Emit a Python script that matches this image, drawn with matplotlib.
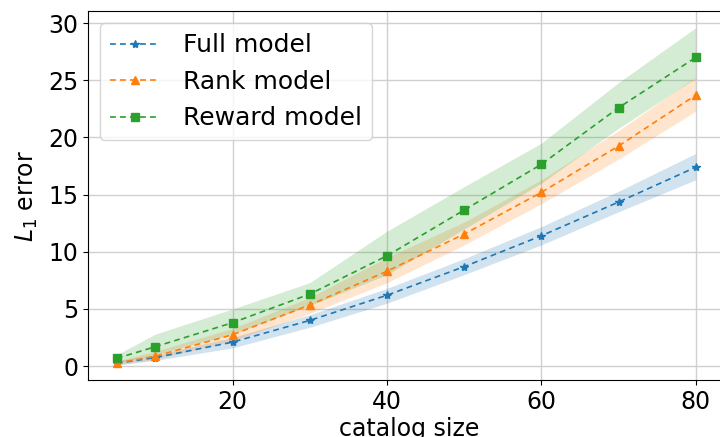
import matplotlib.pyplot as plt

catalog_size = [5, 10, 20, 30, 40, 50, 60, 70, 80]

full_mean = [0.25, 0.75, 2.1, 4.0, 6.2, 8.7, 11.4, 14.35, 17.4]
full_low = [0.1, 0.5, 1.6, 3.4, 5.5, 8.0, 10.6, 13.5, 16.3]
full_high = [0.45, 1.0, 2.5, 4.5, 6.8, 9.4, 12.2, 15.3, 18.6]

rank_mean = [0.25, 0.87, 2.75, 5.35, 8.3, 11.55, 15.2, 19.25, 23.7]
rank_low = [0.1, 0.6, 2.2, 4.6, 7.3, 10.6, 14.2, 18.1, 22.3]
rank_high = [0.45, 1.3, 3.3, 6.0, 9.5, 12.6, 16.3, 20.6, 25.3]

reward_mean = [0.68, 1.7, 3.8, 6.3, 9.65, 13.65, 17.65, 22.6, 27.0]
reward_low = [0.3, 1.0, 2.8, 5.3, 8.0, 12.0, 16.0, 20.8, 25.2]
reward_high = [1.0, 2.8, 5.0, 7.3, 11.8, 15.7, 19.5, 24.8, 29.6]

plt.rcParams['font.size'] = 17

fig = plt.figure(figsize=(7.2, 4.37), dpi=100)
# right edge of the axes falls just outside the picture, as in the source
ax = fig.add_axes([0.122, 0.130, 0.8925, 0.845])

series = [
    ("Full model", full_mean, full_low, full_high, "tab:blue", "*"),
    ("Rank model", rank_mean, rank_low, rank_high, "tab:orange", "^"),
    ("Reward model", reward_mean, reward_low, reward_high, "tab:green", "s"),
]
for label, mean, low, high, color, marker in series:
    ax.plot(catalog_size, mean, linestyle=(0, (3.5, 2.5)), marker=marker, color=color,
            markersize=6, linewidth=1.2, label=label)
    ax.fill_between(catalog_size, low, high, color=color, alpha=0.2, linewidth=0)

ax.set_xlim(1.25, 84.5)
ax.set_ylim(-1.23, 31.07)
ax.set_xticks([20, 40, 60, 80])
ax.set_yticks([0, 5, 10, 15, 20, 25, 30])
ax.grid(True, color="#d0d0d0", linewidth=1)
ax.set_axisbelow(True)
ax.set_xlabel("catalog size", labelpad=2)
ax.set_ylabel("$L_1$ error", labelpad=6)
ax.legend(loc="upper left", fontsize=18, handletextpad=0.9)

fig.savefig("out.png", dpi=100)
